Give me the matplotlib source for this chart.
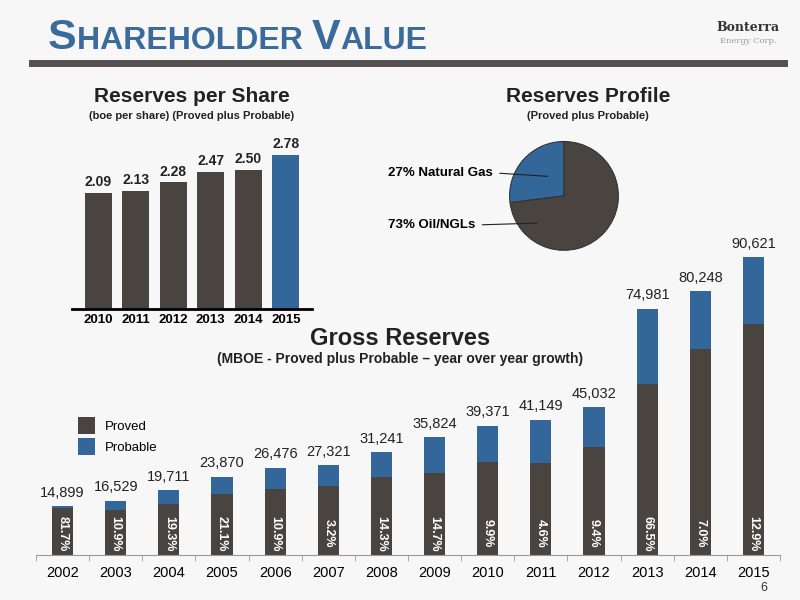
import matplotlib.pyplot as plt
import numpy as np

plt.rcParams["font.family"] = ["Liberation Sans Narrow", "Liberation Sans", "DejaVu Sans"]

# Reserves per share
rps_years = ["2010", "2011", "2012", "2013", "2014", "2015"]
rps_values = [2.09, 2.13, 2.28, 2.47, 2.50, 2.78]

# Reserves profile
profile_labels = ["27% Natural Gas", "73% Oil/NGLs"]
profile_values = [27, 73]

# Gross reserves
gr_years = ["2002", "2003", "2004", "2005", "2006", "2007", "2008", "2009",
            "2010", "2011", "2012", "2013", "2014", "2015"]
gr_total = [14899, 16529, 19711, 23870, 26476, 27321, 31241, 35824,
            39371, 41149, 45032, 74981, 80248, 90621]
gr_proved = [14450, 13550, 15650, 18670, 20170, 21080, 23780, 25000,
             28300, 28000, 32800, 52100, 62600, 70400]
gr_growth = ["81.7%", "10.9%", "19.3%", "21.1%", "10.9%", "3.2%", "14.3%",
             "14.7%", "9.9%", "4.6%", "9.4%", "66.5%", "7.0%", "12.9%"]

DARK = "#4a4440"
BLUE = "#336699"
BG = "#f7f7f7"

fig = plt.figure(figsize=(8, 6), dpi=100, facecolor=BG)
renderer = fig.canvas.get_renderer()

# header (small caps look), pieces chained left to right
title_kw = dict(fontweight="bold", color="#3a6b9a", va="baseline")
xpos = 0.06
for piece, size in [("S", 31), ("HAREHOLDER ", 23), ("V", 31), ("ALUE", 23)]:
    t = fig.text(xpos, 0.918, piece, fontsize=size, **title_kw)
    bb = t.get_window_extent(renderer)
    xpos += bb.width / fig.bbox.width
fig.add_artist(plt.Line2D([0.04, 0.98], [0.895, 0.895], color="#555050", lw=5))
fig.text(0.935, 0.948, "Bonterra", fontsize=9, fontweight="bold",
         color="#333333", ha="center", family="DejaVu Serif")
fig.text(0.935, 0.928, "Energy Corp.", fontsize=6, color="#999999",
         ha="center", family="DejaVu Serif")

# reserves per share
ax1 = fig.add_axes([0.09, 0.485, 0.30, 0.31])
ax1.set_facecolor(BG)
x1 = np.arange(len(rps_years))
cols = [DARK] * (len(rps_years) - 1) + [BLUE]
ax1.bar(x1, rps_values, width=0.72, color=cols)
for xi, v in zip(x1, rps_values):
    ax1.text(xi, v + 0.07, f"{v:.2f}", ha="center", va="bottom",
             fontsize=10, fontweight="bold", color="#222222")
ax1.set_xlim(-0.7, len(rps_years) - 0.3)
ax1.set_ylim(0, 3.35)
ax1.set_xticks(x1, rps_years, fontsize=9.5, fontweight="bold")
ax1.tick_params(length=0)
ax1.set_yticks([])
for s in ["top", "right", "left"]:
    ax1.spines[s].set_visible(False)
ax1.spines["bottom"].set_linewidth(2)
fig.text(0.24, 0.83, "Reserves per Share", fontsize=15, fontweight="bold",
         ha="center", color="#222222")
fig.text(0.24, 0.815, "(boe per share) (Proved plus Probable)", fontsize=8,
         fontweight="bold", ha="center", color="#222222", va="top")

# reserves profile
ax2 = fig.add_axes([0.62, 0.56, 0.17, 0.227])
ax2.pie(profile_values, colors=[BLUE, DARK], startangle=90,
        wedgeprops=dict(edgecolor="#333333", linewidth=0.8))
lab_kw = dict(textcoords="figure fraction", fontsize=9.5, fontweight="bold",
              va="center", ha="left", annotation_clip=False,
              family=["Liberation Sans", "DejaVu Sans"])
ax2.annotate(profile_labels[0], xy=(-0.3, 0.36), xycoords="data",
             xytext=(0.485, 0.712),
             arrowprops=dict(arrowstyle="-", color="#222222", lw=0.8,
                             shrinkA=3, shrinkB=0, relpos=(1, 0.5)), **lab_kw)
ax2.annotate(profile_labels[1], xy=(-0.5, -0.5), xycoords="data",
             xytext=(0.485, 0.625),
             arrowprops=dict(arrowstyle="-", color="#222222", lw=0.8,
                             shrinkA=3, shrinkB=0, relpos=(1, 0.5)), **lab_kw)
fig.text(0.735, 0.83, "Reserves Profile", fontsize=15, fontweight="bold",
         ha="center", color="#222222")
fig.text(0.735, 0.815, "(Proved plus Probable)", fontsize=8,
         fontweight="bold", ha="center", color="#222222", va="top")

# gross reserves
ax3 = fig.add_axes([0.045, 0.075, 0.93, 0.52])
ax3.set_facecolor("none")
x3 = np.arange(len(gr_years))
probable = [t - p for t, p in zip(gr_total, gr_proved)]
ax3.bar(x3, gr_proved, width=0.4, color=DARK, label="Proved")
ax3.bar(x3, probable, width=0.4, bottom=gr_proved, color=BLUE, label="Probable")
for xi, t, g in zip(x3, gr_total, gr_growth):
    ax3.text(xi, t + 2000, f"{t:,}", ha="center", va="bottom", fontsize=10.5,
             color="#222222")
    ax3.text(xi, 6500, g, ha="center", va="center", rotation=-90,
             fontsize=9, fontweight="bold", color="white")
ax3.set_xlim(-0.5, len(gr_years) - 0.5)
ax3.set_ylim(0, 95000)
ax3.set_xticks(x3, gr_years, fontsize=10.5)
ax3.set_xticks(np.arange(-0.5, len(gr_years)), minor=True)
ax3.tick_params(which="major", length=0, pad=8)
ax3.tick_params(which="minor", length=4, color="#999999")
ax3.set_yticks([])
for s in ["top", "right", "left"]:
    ax3.spines[s].set_visible(False)
ax3.spines["bottom"].set_color("#999999")
ax3.legend(loc="upper left", bbox_to_anchor=(0.04, 0.48), frameon=False,
           fontsize=9.5, handlelength=1.3, handleheight=1.6, labelspacing=0.3)
fig.text(0.5, 0.425, "Gross Reserves", fontsize=17, fontweight="bold",
         ha="center", color="#222222")
fig.text(0.5, 0.395, "(MBOE - Proved plus Probable – year over year growth)",
         fontsize=10, fontweight="bold", ha="center", color="#222222")
fig.text(0.955, 0.015, "6", fontsize=9, ha="center", color="#333333")

fig.savefig("out.png", facecolor=BG)
